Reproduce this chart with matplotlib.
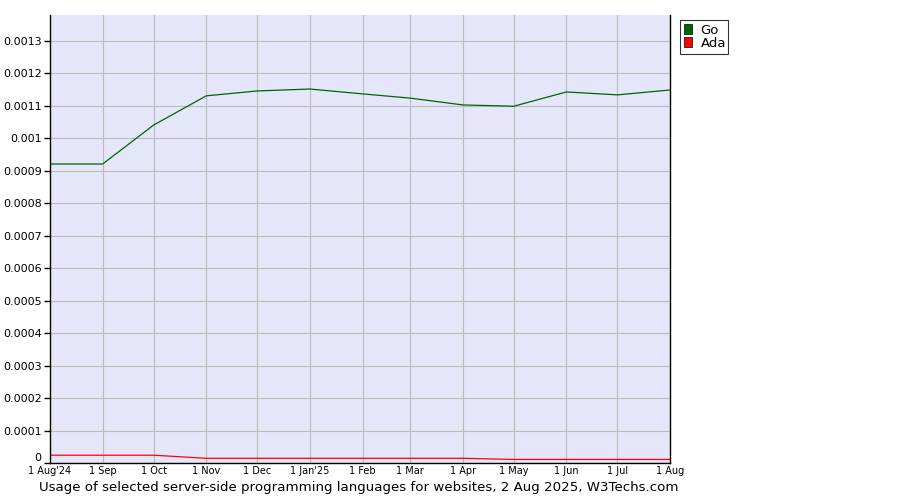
"""W3Techs: server-side programming languages usage (Go, Ada)"""
import datetime as dt
import matplotlib
matplotlib.use('Agg')
import matplotlib.pyplot as plt
import matplotlib.dates as mdates
from matplotlib.patches import Patch
from matplotlib.ticker import FixedLocator

# ---------- data ----------
months = ['2024-08-01', '2024-09-01', '2024-10-01', '2024-11-01', '2024-12-01',
          '2025-01-01', '2025-02-01', '2025-03-01', '2025-04-01', '2025-05-01',
          '2025-06-01', '2025-07-01', '2025-08-01']
go = [0.000921, 0.000921, 0.001041, 0.001131, 0.001146, 0.001152, 0.001137,
      0.001124, 0.001103, 0.001099, 0.001143, 0.001134, 0.001149]
ada = [0.000024, 0.000024, 0.000024, 0.0000145, 0.0000145, 0.0000145, 0.0000145,
       0.0000145, 0.0000145, 0.000011, 0.000011, 0.000011, 0.000011]
xlabels = ["1 Aug'24", '1 Sep', '1 Oct', '1 Nov', '1 Dec', "1 Jan'25", '1 Feb',
           '1 Mar', '1 Apr', '1 May', '1 Jun', '1 Jul', '1 Aug']
yticks = [0, 0.0001, 0.0002, 0.0003, 0.0004, 0.0005, 0.0006, 0.0007,
          0.0008, 0.0009, 0.001, 0.0011, 0.0012, 0.0013]
ylabels = ['0', '0.0001', '0.0002', '0.0003', '0.0004', '0.0005', '0.0006', '0.0007',
           '0.0008', '0.0009', '0.001', '0.0011', '0.0012', '0.0013']

dates = [dt.datetime.strptime(m, '%Y-%m-%d') for m in months]

fig = plt.figure(figsize=(9, 5), dpi=100)
ax = fig.add_axes([50 / 900, 37 / 500, 620 / 900, 448 / 500])
ax.set_facecolor('#e6e6fa')

ax.plot(dates, go, color='#006400', lw=0.9)
ax.plot(dates, ada, color='#ff0000', lw=0.9)

ax.set_xlim(dates[0], dates[-1])
ax.set_ylim(0, 0.00138)

ax.xaxis.set_major_locator(FixedLocator(mdates.date2num(dates)))
ax.set_xticklabels(xlabels, fontsize=7)
ax.set_yticks(yticks)
ax.set_yticklabels(ylabels, fontsize=8)
ax.tick_params(axis='y', length=4, width=1, pad=2)
ax.tick_params(axis='x', length=0, pad=2.5)
# 「0」と先頭の日付ラベルが重ならないよう少し上へ
ax.get_yticklabels()[0].set_va('bottom')

ax.grid(True, color='#bbbbbb', lw=0.8)
ax.set_axisbelow(True)
for s in ['left', 'bottom', 'right']:
    ax.spines[s].set_color('black')
    ax.spines[s].set_linewidth(1)
ax.spines['top'].set_visible(False)

handles = [Patch(facecolor='#006400', edgecolor='black', lw=0.5, label='Go'),
           Patch(facecolor='#ff0000', edgecolor='black', lw=0.5, label='Ada')]
leg = fig.legend(handles=handles, loc='upper left', bbox_to_anchor=(680 / 900, 1 - 20 / 500),
                 fontsize=9.5, frameon=True, fancybox=False, edgecolor='black',
                 handlelength=0.6, handleheight=0.8, handletextpad=0.5,
                 labelspacing=0.0, borderpad=0.3, borderaxespad=0)
leg.get_frame().set_linewidth(0.8)
for t in leg.get_texts():
    t.set_x(2)

fig.text(359 / 900, 1 - 488 / 500,
         'Usage of selected server-side programming languages for websites, 2 Aug 2025, W3Techs.com',
         ha='center', va='center', fontsize=9.6)

fig.savefig('out.png', dpi=100)
